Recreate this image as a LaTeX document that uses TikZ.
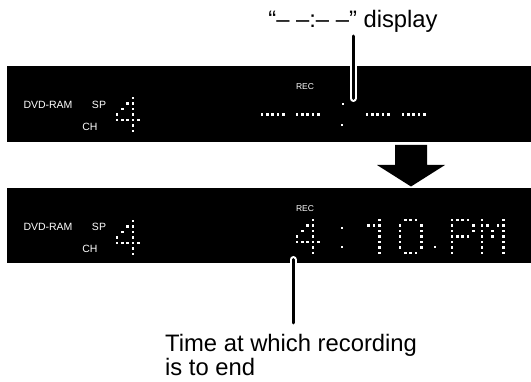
\documentclass[tikz,border=0pt]{standalone}
\usepackage{fontspec}
\setmainfont{Liberation Sans}
\usetikzlibrary{positioning}
\tikzset{
  dispbar/.style={fill=black},
  lcd/.style={text=white, inner sep=0pt, font=\fontsize{10.5}{10.5}\selectfont},
  lcdsmall/.style={lcd, font=\fontsize{8.5}{8.5}\selectfont},
  vfd/.style={fill=white},
  callout/.style={inner sep=0pt, align=left, font=\fontsize{23.8}{24}\selectfont},
  pointer/.style={draw=white, double=black, line width=2pt, double distance=3pt, line cap=round},
  bigarrow/.style={fill=black}
}
% dot-matrix character: left x, top y, list of col/row dots
\newcommand{\vfdchar}[3]{\edef\vfdlist{#3}\foreach \cx/\ry in \vfdlist \fill[vfd] (#1+\cx*5.3-1.4, #2+\ry*5.5-1.4) rectangle ++(2.8,2.8);}
\newcommand{\glfour}{3/0,2/1,3/1,1/2,3/2,0/3,3/3,0/4,1/4,2/4,3/4,4/4,3/5,3/6}
\newcommand{\gldash}{0/3,1/3,2/3,3/3,4/3}

\begin{document}
\begin{tikzpicture}[x=1pt, y=-1pt]
  \useasboundingbox (0,0) rectangle (531,382);
  % displays
  \fill[dispbar] (7,66) rectangle (531,142);
  \fill[dispbar] (7,188) rectangle (531,263);
  \fill[bigarrow] (395,145) -- (427,145) -- (427,165) -- (445,165) -- (411,186.5) -- (377,165) -- (395,165) -- cycle;

  % before
  \node[lcd] (dvd1) at (48,105) {DVD-RAM};
  \node[lcd] (sp1) at (99,105) {SP};
  \node[lcd] (ch1) at (90,127) {CH};
  \node[lcdsmall] (rec1) at (305,87) {REC};
  \vfdchar{117}{98}{\glfour}
  \vfdchar{262}{98}{\gldash}
  \vfdchar{297}{98}{\gldash}
  \vfdchar{343}{104}{0/0}
  \vfdchar{342}{125}{0/0}
  \vfdchar{367}{98}{\gldash}
  \vfdchar{403}{98}{\gldash}

  % after
  \node[lcd] (dvd2) at (48,227) {DVD-RAM};
  \node[lcd] (sp2) at (99,227) {SP};
  \node[lcd] (ch2) at (90,249) {CH};
  \node[lcdsmall] (rec2) at (305,209) {REC};
  \vfdchar{117}{221}{\glfour}
  \vfdchar{297}{220}{\glfour}
  \vfdchar{342}{228}{0/0}
  \vfdchar{342}{247}{0/0}
  \vfdchar{358}{220}{4/0,2/1,3/1,4/1,4/2,4/3,4/4,4/5,4/6}
  \vfdchar{400}{220}{1/0,2/0,3/0,0/1,4/1,0/2,4/2,0/3,4/3,0/4,4/4,0/5,4/5,1/6,2/6,3/6}
  \vfdchar{435}{247}{0/0}
  \vfdchar{452}{220}{0/0,1/0,2/0,3/0,0/1,4/1,0/2,4/2,0/3,1/3,2/3,3/3,0/4,0/5,0/6}
  \vfdchar{482}{220}{0/0,4/0,0/1,1/1,3/1,4/1,0/2,2/2,4/2,0/3,2/3,4/3,0/4,4/4,0/5,4/5,0/6,4/6}

  % callouts
  \node[callout, anchor=south] (dashlbl) at (353,33) {“– –:– –” display};
  \node[callout, anchor=north west] (endlbl) at (165,334) {Time at which recording\\is to end};
  \coordinate (dashpt) at (353,98.5);
  \coordinate (endpt) at (293,259.5);
  \draw[pointer] ([yshift=-3pt]dashlbl.south -| dashpt) -- (dashpt);
  \draw[pointer] ([yshift=11pt]endlbl.north -| endpt) -- (endpt);
\end{tikzpicture}
\end{document}
